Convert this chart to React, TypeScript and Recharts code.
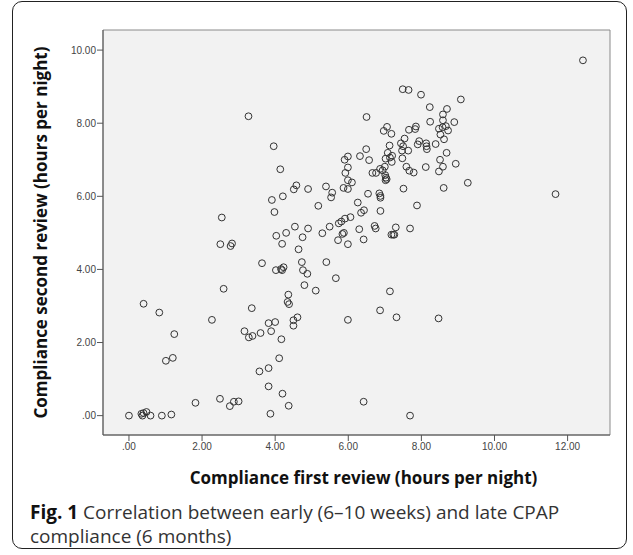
import React from 'react';
import { ScatterChart, Scatter, XAxis, YAxis, ReferenceArea, Label } from 'recharts';

const xTicks = [0, 2, 4, 6, 8, 10, 12];
const yTicks = [0, 2, 4, 6, 8, 10];

// compliance at first review (6-10 weeks), hours per night
const firstReview = [
  3.27, 6.50, 3.96, 6.49, 4.14, 5.90, 5.99, 6.32, 5.99, 5.92,
  5.99, 6.10, 5.87, 5.99, 6.57, 4.58, 4.51, 4.90, 5.39, 5.56,
  5.53, 6.54, 3.91, 4.21, 5.18, 6.26, 3.98, 2.54, 6.35, 6.43,
  6.06, 5.74, 5.81, 5.91, 4.54, 4.90, 5.49, 6.30, 4.03, 4.30,
  4.75, 5.29, 5.88, 5.84, 5.72, 5.99, 6.42, 2.50, 2.82, 2.78,
  4.19, 4.64, 3.64, 4.02, 4.16, 4.23, 4.19, 4.73, 4.76, 4.88,
  5.40, 5.66, 4.80, 5.11, 2.59, 4.36, 4.34, 4.38, 3.36, 0.40,
  0.83, 2.27, 3.82, 4.00, 4.50, 4.61, 4.50, 5.99, 1.24, 3.16,
  3.28, 3.38, 3.60, 3.89, 4.17, 1.01, 1.20, 4.11, 3.57, 3.82,
  3.82, 4.20, 4.37, 3.87, 1.82, 2.49, 2.76, 2.87, 3.00, 6.42,
  0.00, 0.34, 0.40, 0.37, 0.48, 0.59, 0.90, 1.16, 12.42, 11.67,
  7.49, 7.65, 7.99, 9.08, 8.23, 8.70, 8.59, 8.24, 8.90, 8.59,
  8.48, 8.58, 8.67, 8.73, 8.52, 8.62, 6.97, 7.06, 7.18, 7.66,
  7.83, 7.85, 7.54, 7.44, 7.50, 7.64, 7.47, 7.48, 7.94, 7.90,
  8.13, 8.14, 8.15, 8.39, 7.13, 7.08, 7.20, 7.02, 7.14, 7.19,
  8.69, 8.51, 8.94, 8.59, 8.48, 8.12, 7.59, 7.67, 7.79, 6.66,
  6.76, 6.87, 6.94, 7.00, 7.01, 7.03, 7.02, 7.05, 9.27, 7.51,
  8.61, 6.85, 6.88, 6.88, 7.88, 6.88, 6.72, 6.75, 7.30, 7.69,
  7.18, 7.23, 7.26, 7.14, 6.87, 7.32, 8.47, 7.69,
];

// compliance at second review (6 months), hours per night
const secondReview = [
  8.19, 8.17, 7.37, 7.29, 6.74, 7.00, 7.09, 7.10, 6.79, 6.64,
  6.44, 6.38, 6.23, 6.20, 6.99, 6.30, 6.19, 6.20, 6.27, 6.10,
  5.97, 6.07, 5.90, 6.00, 5.74, 5.83, 5.57, 5.42, 5.55, 5.62,
  5.43, 5.26, 5.31, 5.39, 5.17, 5.12, 5.17, 5.10, 4.92, 5.00,
  4.88, 4.99, 5.00, 4.97, 4.80, 4.69, 4.82, 4.69, 4.71, 4.64,
  4.70, 4.55, 4.17, 3.98, 4.01, 4.06, 3.98, 4.20, 3.98, 3.88,
  4.20, 3.76, 3.57, 3.42, 3.47, 3.31, 3.11, 3.05, 2.94, 3.06,
  2.82, 2.62, 2.53, 2.56, 2.61, 2.69, 2.46, 2.62, 2.23, 2.31,
  2.14, 2.18, 2.26, 2.31, 2.09, 1.50, 1.58, 1.57, 1.21, 1.30,
  0.80, 0.60, 0.27, 0.05, 0.35, 0.46, 0.26, 0.38, 0.39, 0.38,
  0.00, 0.05, 0.07, 0.00, 0.10, 0.00, 0.00, 0.03, 9.72, 6.06,
  8.93, 8.91, 8.78, 8.65, 8.44, 8.39, 8.24, 8.04, 8.03, 8.08,
  7.85, 7.89, 7.92, 7.80, 7.69, 7.56, 7.79, 7.90, 7.71, 7.82,
  7.84, 7.91, 7.58, 7.45, 7.37, 7.25, 7.25, 7.04, 7.51, 7.42,
  7.45, 7.37, 7.29, 7.43, 7.39, 7.19, 7.11, 7.03, 7.06, 6.94,
  7.19, 7.00, 6.89, 6.81, 6.68, 6.80, 6.81, 6.70, 6.65, 6.64,
  6.64, 6.75, 6.71, 6.81, 6.58, 6.51, 6.44, 6.47, 6.37, 6.21,
  6.23, 6.08, 6.01, 5.96, 5.75, 5.60, 5.19, 5.12, 5.15, 5.12,
  4.95, 4.95, 4.95, 3.40, 2.88, 2.69, 2.66, 0.00,
];

const X_DOMAIN: [number, number] = [-0.71, 13.16];
const Y_DOMAIN: [number, number] = [-0.53, 10.55];

const data = firstReview.map((x, i) => ({ x, y: secondReview[i] }));

const fmt = (v: number) => (v === 0 ? '.00' : v.toFixed(2));

const tickStyle = { fontSize: 10, fill: '#444', fontFamily: 'Liberation Sans, Arial, sans-serif' };
const titleStyle = { fontSize: 17, fontWeight: 700, fill: '#111', fontFamily: 'Open Sans, sans-serif' };

const Ring = (props: any) => (
  <circle cx={props.cx} cy={props.cy} r={3.4} fill="none" stroke="#333" strokeWidth={1} />
);

export default function App() {
  return (
    <div style={{ position: 'absolute', left: 0, top: 0, width: 633, height: 555, background: '#fff' }}>
      <div
        style={{
          position: 'absolute',
          left: 12,
          top: 1,
          width: 613,
          height: 546,
          border: '1.5px solid #222',
          borderRadius: 10,
        }}
      />
      <ScatterChart width={633} height={555} margin={{ top: 30, right: 23, bottom: 60, left: 0 }}>
        <ReferenceArea
          x1={X_DOMAIN[0]}
          x2={X_DOMAIN[1]}
          y1={Y_DOMAIN[0]}
          y2={Y_DOMAIN[1]}
          fill="#f2f2f2"
          fillOpacity={1}
          stroke="#8a8a8a"
          strokeWidth={1}
        />
        <XAxis
          dataKey="x"
          type="number"
          domain={X_DOMAIN}
          allowDataOverflow
          ticks={xTicks}
          tickFormatter={fmt}
          height={60}
          tickSize={6}
          tickMargin={2}
          tick={tickStyle}
          stroke="#555"
        >
          <Label
            value="Compliance first review (hours per night)"
            position="insideBottom"
            offset={11}
            dx={7}
            style={titleStyle}
          />
        </XAxis>
        <YAxis
          dataKey="y"
          type="number"
          domain={Y_DOMAIN}
          allowDataOverflow
          ticks={yTicks}
          tickFormatter={fmt}
          width={103}
          tickSize={6}
          tickMargin={1}
          tick={tickStyle}
          stroke="#555"
        >
          <Label
            value="Compliance second review (hours per night)"
            position="insideLeft"
            angle={-90}
            offset={46}
            dx={-5}
            style={{ ...titleStyle, textAnchor: 'middle' }}
          />
        </YAxis>
        <Scatter data={data} shape={Ring} isAnimationActive={false} />
      </ScatterChart>
      <div
        style={{
          position: 'absolute',
          left: 30,
          top: 500,
          width: 590,
          fontFamily: 'Open Sans, sans-serif',
          fontSize: 19,
          lineHeight: '24px',
          color: '#333',
          whiteSpace: 'nowrap',
        }}
      >
        <div>
          <b style={{ color: '#111' }}>Fig. 1</b> Correlation between early (6–10 weeks) and late CPAP
        </div>
        <div>compliance (6 months)</div>
      </div>
    </div>
  );
}
